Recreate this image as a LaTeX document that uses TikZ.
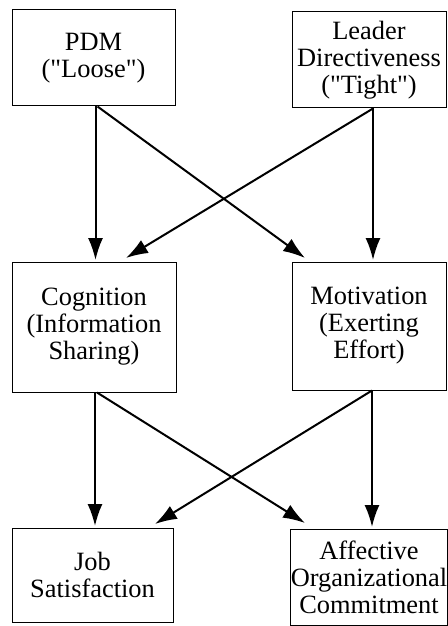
\documentclass[tikz,border=0pt]{standalone}
\usepackage{fontspec}
\setmainfont{Liberation Serif}
\usetikzlibrary{arrows.meta}

\begin{document}
\begin{tikzpicture}[x=0.5pt,y=-0.5pt,
	box/.style={draw,line width=0.5pt,align=center,inner sep=0pt,
		font=\fontsize{13.2}{13.5}\selectfont},
	arr/.style={-{Latex[length=11pt,width=7.5pt]},line width=1pt}]
	\useasboundingbox (0,0) rectangle (447,626);
	
	% top row
	\node[box,minimum width=81.5pt,minimum height=48pt] (pdm) at (93.5,58) {PDM\\(\textquotedbl Loose\textquotedbl)};
	\node[box,minimum width=77pt,minimum height=48pt] (lead) at (369,60) {Leader\\Directiveness\\(\textquotedbl Tight\textquotedbl)};
	
	% middle row
	\node[box,minimum width=82pt,minimum height=65pt] (cog) at (94,327) {Cognition\\(Information\\Sharing)};
	\node[box,minimum width=77pt,minimum height=64pt] (mot) at (369,326) {Motivation\\(Exerting\\Effort)};
	
	% bottom row
	\node[box,minimum width=80.5pt,minimum height=47pt] (job) at (92.5,575) {Job\\Satisfaction};
	\node[box,minimum width=77pt,minimum height=48pt] (aff) at (369,577) {Affective\\Organizational\\Commitment};
	
	% arrow end points
	\coordinate (cogL) at ([xshift=1pt]pdm.south |- 0,260);
	\coordinate (cogR) at (126,258);
	\coordinate (motL) at (305,258);
	\coordinate (motR) at ([xshift=2pt]lead.south |- 0,260);
	\coordinate (jobL) at ([xshift=0.5pt]cog.south |- 0,526);
	\coordinate (jobR) at (155,524);
	\coordinate (affL) at (305,523);
	\coordinate (affR) at ([xshift=1.5pt]mot.south |- 0,527);
	
	% top to middle
	\draw[arr] ([xshift=1pt]pdm.south) -- (cogL);
	\draw[arr] ([xshift=2pt]pdm.south) -- (motL);
	\draw[arr] ([xshift=2pt]lead.south) -- (motR);
	\draw[arr] ([xshift=2pt]lead.south) -- (cogR);
	
	% middle to bottom
	\draw[arr] ([xshift=0.5pt]cog.south) -- (jobL);
	\draw[arr] ([xshift=1.5pt]cog.south) -- (affL);
	\draw[arr] ([xshift=1.5pt]mot.south) -- (affR);
	\draw[arr] ([xshift=1.5pt]mot.south) -- (jobR);
\end{tikzpicture}
\end{document}
